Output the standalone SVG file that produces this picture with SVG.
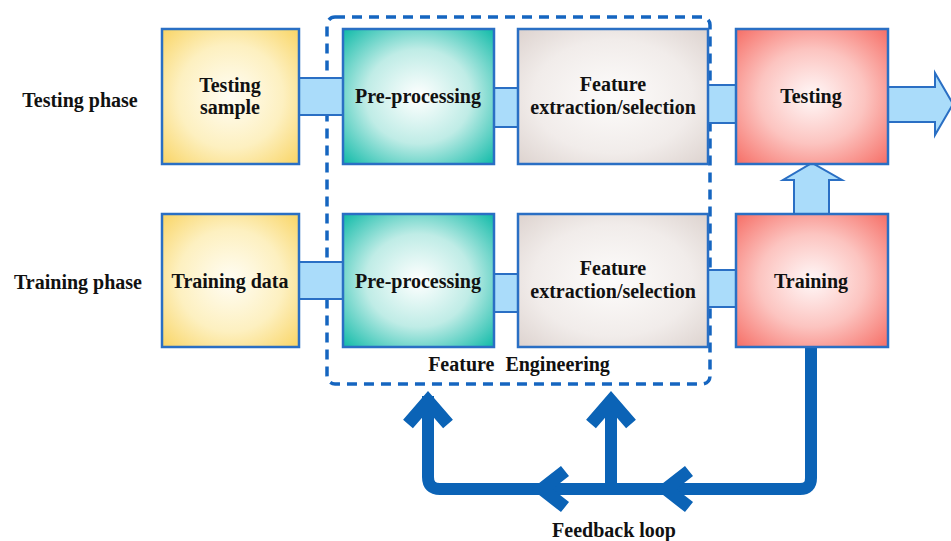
<svg xmlns="http://www.w3.org/2000/svg" width="951" height="541" viewBox="0 0 951 541">
<defs>
<radialGradient id="gY" cx="50%" cy="50%" r="70%"><stop offset="0" stop-color="#fffdf4"/><stop offset="0.55" stop-color="#fdf0c0"/><stop offset="1" stop-color="#f9d566"/></radialGradient>
<radialGradient id="gT" cx="50%" cy="50%" r="70%"><stop offset="0" stop-color="#ffffff"/><stop offset="0.5" stop-color="#bfece6"/><stop offset="1" stop-color="#12bba9"/></radialGradient>
<radialGradient id="gG" cx="50%" cy="50%" r="70%"><stop offset="0" stop-color="#fdfcfb"/><stop offset="0.6" stop-color="#f1ecea"/><stop offset="1" stop-color="#ddd3cf"/></radialGradient>
<radialGradient id="gR" cx="50%" cy="50%" r="70%"><stop offset="0" stop-color="#fff8f8"/><stop offset="0.5" stop-color="#fcc4c0"/><stop offset="1" stop-color="#f66f67"/></radialGradient>
</defs>
<style>
.box{stroke:#2a6fc4;stroke-width:2.5}
.con{fill:#aadcfa;stroke:#2a6fc4;stroke-width:2}
.t{font-family:"Liberation Serif","Times New Roman",serif;font-weight:bold;font-size:20px;fill:#111;text-anchor:middle}
.lbl{font-family:"Liberation Serif","Times New Roman",serif;font-weight:bold;font-size:20px;fill:#111;text-anchor:middle}
.fb{fill:none;stroke:#0b63b6;stroke-width:12}
.chev{fill:none;stroke:#0b63b6;stroke-width:13;stroke-linejoin:miter}
</style>
<rect width="951" height="541" fill="#ffffff"/>
<g id="feature-engineering">
<rect x="327" y="17" width="383" height="367" rx="8" fill="none" stroke="#1565c0" stroke-width="3.5" stroke-dasharray="10 7"/>
<text class="lbl" x="519" y="371" xml:space="preserve" word-spacing="6">Feature Engineering</text>
</g>
<g id="phase-labels">
<text class="lbl" x="80" y="107">Testing phase</text>
<text class="lbl" x="78" y="289">Training phase</text>
</g>
<g id="connectors">
<rect class="con" x="299" y="78" width="44" height="37"/>
<rect class="con" x="494" y="88" width="24" height="39"/>
<rect class="con" x="708" y="85" width="28" height="38"/>
<polygon class="con" points="888,87 935,87 935,73 953,104 935,135 935,122 888,122"/>
<rect class="con" x="299" y="262" width="44" height="37"/>
<rect class="con" x="494" y="274" width="24" height="38"/>
<rect class="con" x="708" y="270" width="28" height="37"/>
<polygon class="con" points="794,214 794,180 783,180 812,163 842,180 829,180 829,214"/>
<path class="fb" d="M811,347 V478 Q811,489 800,489 H440 Q428,489 428,477 V396"/>
<path class="fb" d="M611,491 V398"/>
<polyline class="chev" points="408,424 428,401 448,424"/>
<polyline class="chev" points="591,424 611,401 631,424"/>
<polyline class="chev" points="565,471 542,489 565,507"/>
<polyline class="chev" points="689,471 666,489 689,507"/>
<text class="lbl" x="614" y="537">Feedback loop</text>
</g>
<g id="testing-sample">
<rect class="box" x="162" y="29" width="137" height="135" fill="url(#gY)"/>
<text class="t" x="230" y="92">Testing</text>
<text class="t" x="230" y="114">sample</text>
</g>
<g id="pre-processing-test">
<rect class="box" x="343" y="29" width="151" height="135" fill="url(#gT)"/>
<text class="t" x="418" y="103">Pre-processing</text>
</g>
<g id="feature-test">
<rect class="box" x="518" y="29" width="190" height="135" fill="url(#gG)"/>
<text class="t" x="613" y="91">Feature</text>
<text class="t" x="613" y="114">extraction/selection</text>
</g>
<g id="testing">
<rect class="box" x="736" y="29" width="152" height="135" fill="url(#gR)"/>
<text class="t" x="811" y="103">Testing</text>
</g>
<g id="training-data">
<rect class="box" x="162" y="214" width="137" height="133" fill="url(#gY)"/>
<text class="t" x="230" y="288">Training data</text>
</g>
<g id="pre-processing-train">
<rect class="box" x="343" y="214" width="151" height="133" fill="url(#gT)"/>
<text class="t" x="418" y="288">Pre-processing</text>
</g>
<g id="feature-train">
<rect class="box" x="518" y="214" width="190" height="133" fill="url(#gG)"/>
<text class="t" x="613" y="275">Feature</text>
<text class="t" x="613" y="298">extraction/selection</text>
</g>
<g id="training">
<rect class="box" x="736" y="214" width="152" height="133" fill="url(#gR)"/>
<text class="t" x="811" y="288">Training</text>
</g>
</svg>
